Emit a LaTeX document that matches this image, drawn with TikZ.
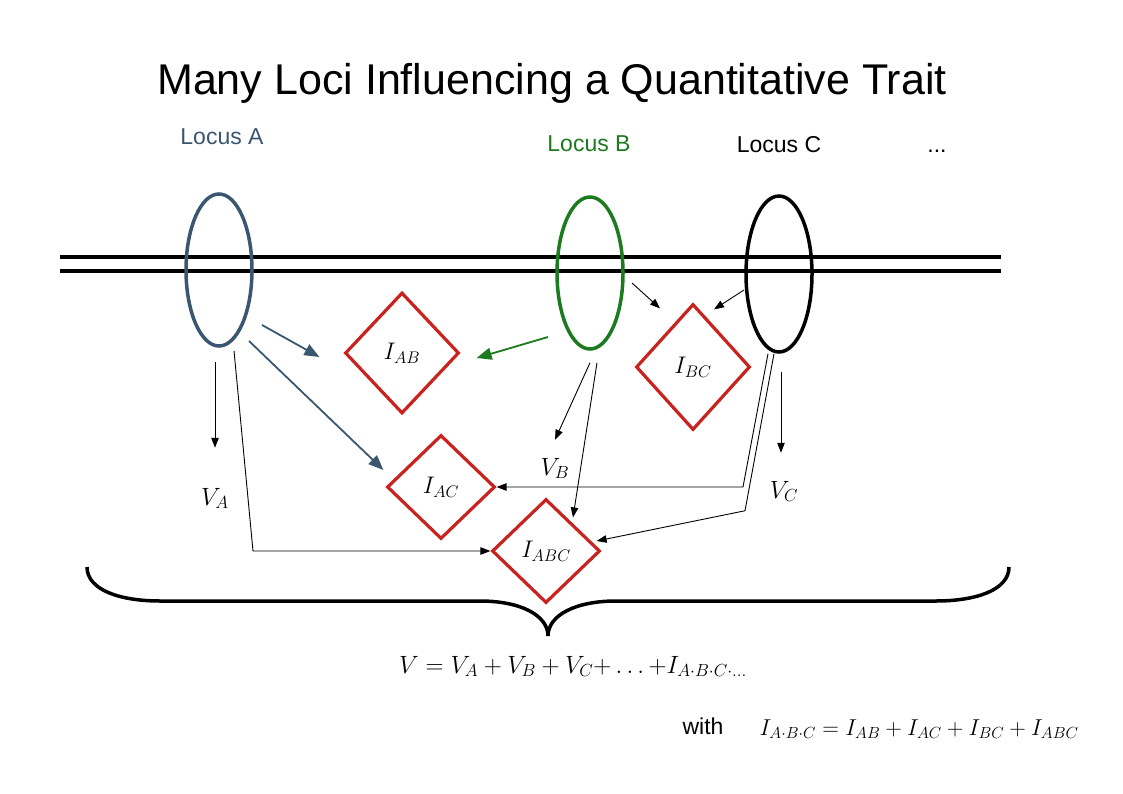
\RequirePackage{fix-cm}
\documentclass[tikz,border=0pt]{standalone}
\usepackage{amsmath}
\usepackage{fontspec}
\newfontfamily\sansfont{Liberation Sans}
\usepackage{tikz}
\usetikzlibrary{arrows.meta,positioning,shapes.geometric,calc}

\definecolor{slate}{HTML}{3B5670}
\definecolor{locusgreen}{HTML}{1C7A1F}
\definecolor{interred}{HTML}{C8231F}

\begin{document}
\begin{tikzpicture}[x=1pt, y=-1pt,
    locus/.style={ellipse, draw, line width=3.5pt, minimum width=66pt, minimum height=152pt, inner sep=0pt},
    inter/.style={diamond, draw=interred, line width=3.2pt, inner sep=0pt, font=\fontsize{24}{28}\selectfont},
    locuslabel/.style={anchor=base, font=\sansfont\fontsize{23}{27}\selectfont},
    varlabel/.style={anchor=base, font=\fontsize{25}{30}\selectfont},
    arrow/.style={-{Triangle[length=10pt,width=7.5pt]}, line width=0.9pt},
    bigarrow/.style={-{Triangle[length=15pt,width=12pt]}, line width=1.8pt}
]
\useasboundingbox (0,0) rectangle (1123,794);

% Title
\node[anchor=base, font=\sansfont\fontsize{43}{49}\selectfont] (title) at (552,95) {Many Loci Influencing a Quantitative Trait};

% Locus labels
\node[locuslabel, slate] (labA) at (222,145) {Locus A};
\node[locuslabel, locusgreen] (labB) at (589,152) {Locus B};
\node[locuslabel] (labC) at (779,153) {Locus C};
\node[locuslabel] (labD) at (937,153) {...};

% Chromosome
\draw[line width=3.5pt] (60,257) -- (1001,257);
\draw[line width=3.5pt] (60,271) -- (1001,271);

% Loci
\node[locus, draw=slate] (locA) at (219,270) {};
\node[locus, draw=locusgreen] (locB) at (590,273) {};
\node[locus, minimum height=156pt] (locC) at (779,274) {};

% Interactions
\node[inter, minimum width=114pt, minimum height=121pt] (iab) at (402,353) {$I_{AB}$};
\node[inter, minimum width=114pt, minimum height=126pt] (ibc) at (693,367) {$I_{BC}$};
\node[inter, minimum width=108pt, minimum height=104pt] (iac) at (441,487) {$I_{AC}$};
\node[inter, minimum width=108pt, minimum height=104pt] (iabc) at (546,551) {$I_{ABC}$};

% Variance labels
\node[varlabel] (va) at (215,505) {$V_A$};
\node[varlabel] (vb) at (555,475) {$V_B$};
\node[varlabel] (vc) at (784,498) {$V_C$};

% Arrows from locus A
\coordinate (a1) at ($(locA)+(43,55)$);
\coordinate (a2) at ($(locA)+(30,71)$);
\coordinate (a3) at ($(locA.south)+(-4,14)$);
\coordinate (a4) at ($(locA.south)+(15,3)$);
\draw[bigarrow, slate] (a1) -- ($(iab.west)+(-24,4)$);
\draw[bigarrow, slate] (a2) -- ($(iac.west)+(-2,-17)$);
\draw[arrow] (a3) -- ++(0,86);
\draw[arrow] (a4) -- ($(a4 |- iabc.west)+(19,0)$) -- (iabc.west);

% Arrows from locus B
\coordinate (b1) at ($(locB)+(-42,64)$);
\coordinate (b2) at ($(locB)+(42,10)$);
\coordinate (b3) at ($(locB.south)+(0,12)$);
\coordinate (b4) at ($(locB.south)+(7,12)$);
\draw[bigarrow, locusgreen] (b1) -- ($(iab.east)+(16,5)$);
\draw[arrow] (b2) -- ($(ibc.north)+(-33,6)$);
\draw[arrow] (b3) -- ++(-35,77);
\draw[arrow] (b4) -- ($(iabc.north)+(27,20)$);

% Arrows from locus C
\coordinate (c1) at ($(locC)+(-35,16)$);
\coordinate (c2) at ($(locC.south)+(-11,0)$);
\coordinate (c3) at ($(locC.south)+(-5,0)$);
\coordinate (c4) at ($(locC.south)+(2,18)$);
\draw[arrow] (c1) -- ($(ibc.north)+(21,7)$);
\draw[arrow] (c2) -- ($(c2 |- iac.east)+(-25,0)$) -- (iac.east);
\draw[arrow] (c3) -- ++(-29,157) -- ($(iabc.east)+(-5,-10)$);
\draw[arrow] (c4) -- ++(0,81);

% Brace
\draw[line width=3.5pt] (87,567) .. controls (87,590) and (120,601) .. (160,601) -- (480,601)
    .. controls (520,601) and (548,615) .. (548,636)
    .. controls (548,615) and (576,601) .. (616,601) -- (936,601)
    .. controls (976,601) and (1009,590) .. (1009,567);

% Sum
\node[varlabel] (sum) at (573,673) {$V = V_A + V_B + V_C{+}\ldots{+}I_{A\cdot B\cdot C\cdot\ldots}$};
\node[locuslabel] (with) at (703,734) {with};
\node[anchor=base, font=\fontsize{23}{28}\selectfont] (inter) at (919,735) {$I_{A\cdot B\cdot C} = I_{AB} + I_{AC} + I_{BC} + I_{ABC}$};
\end{tikzpicture}
\end{document}
